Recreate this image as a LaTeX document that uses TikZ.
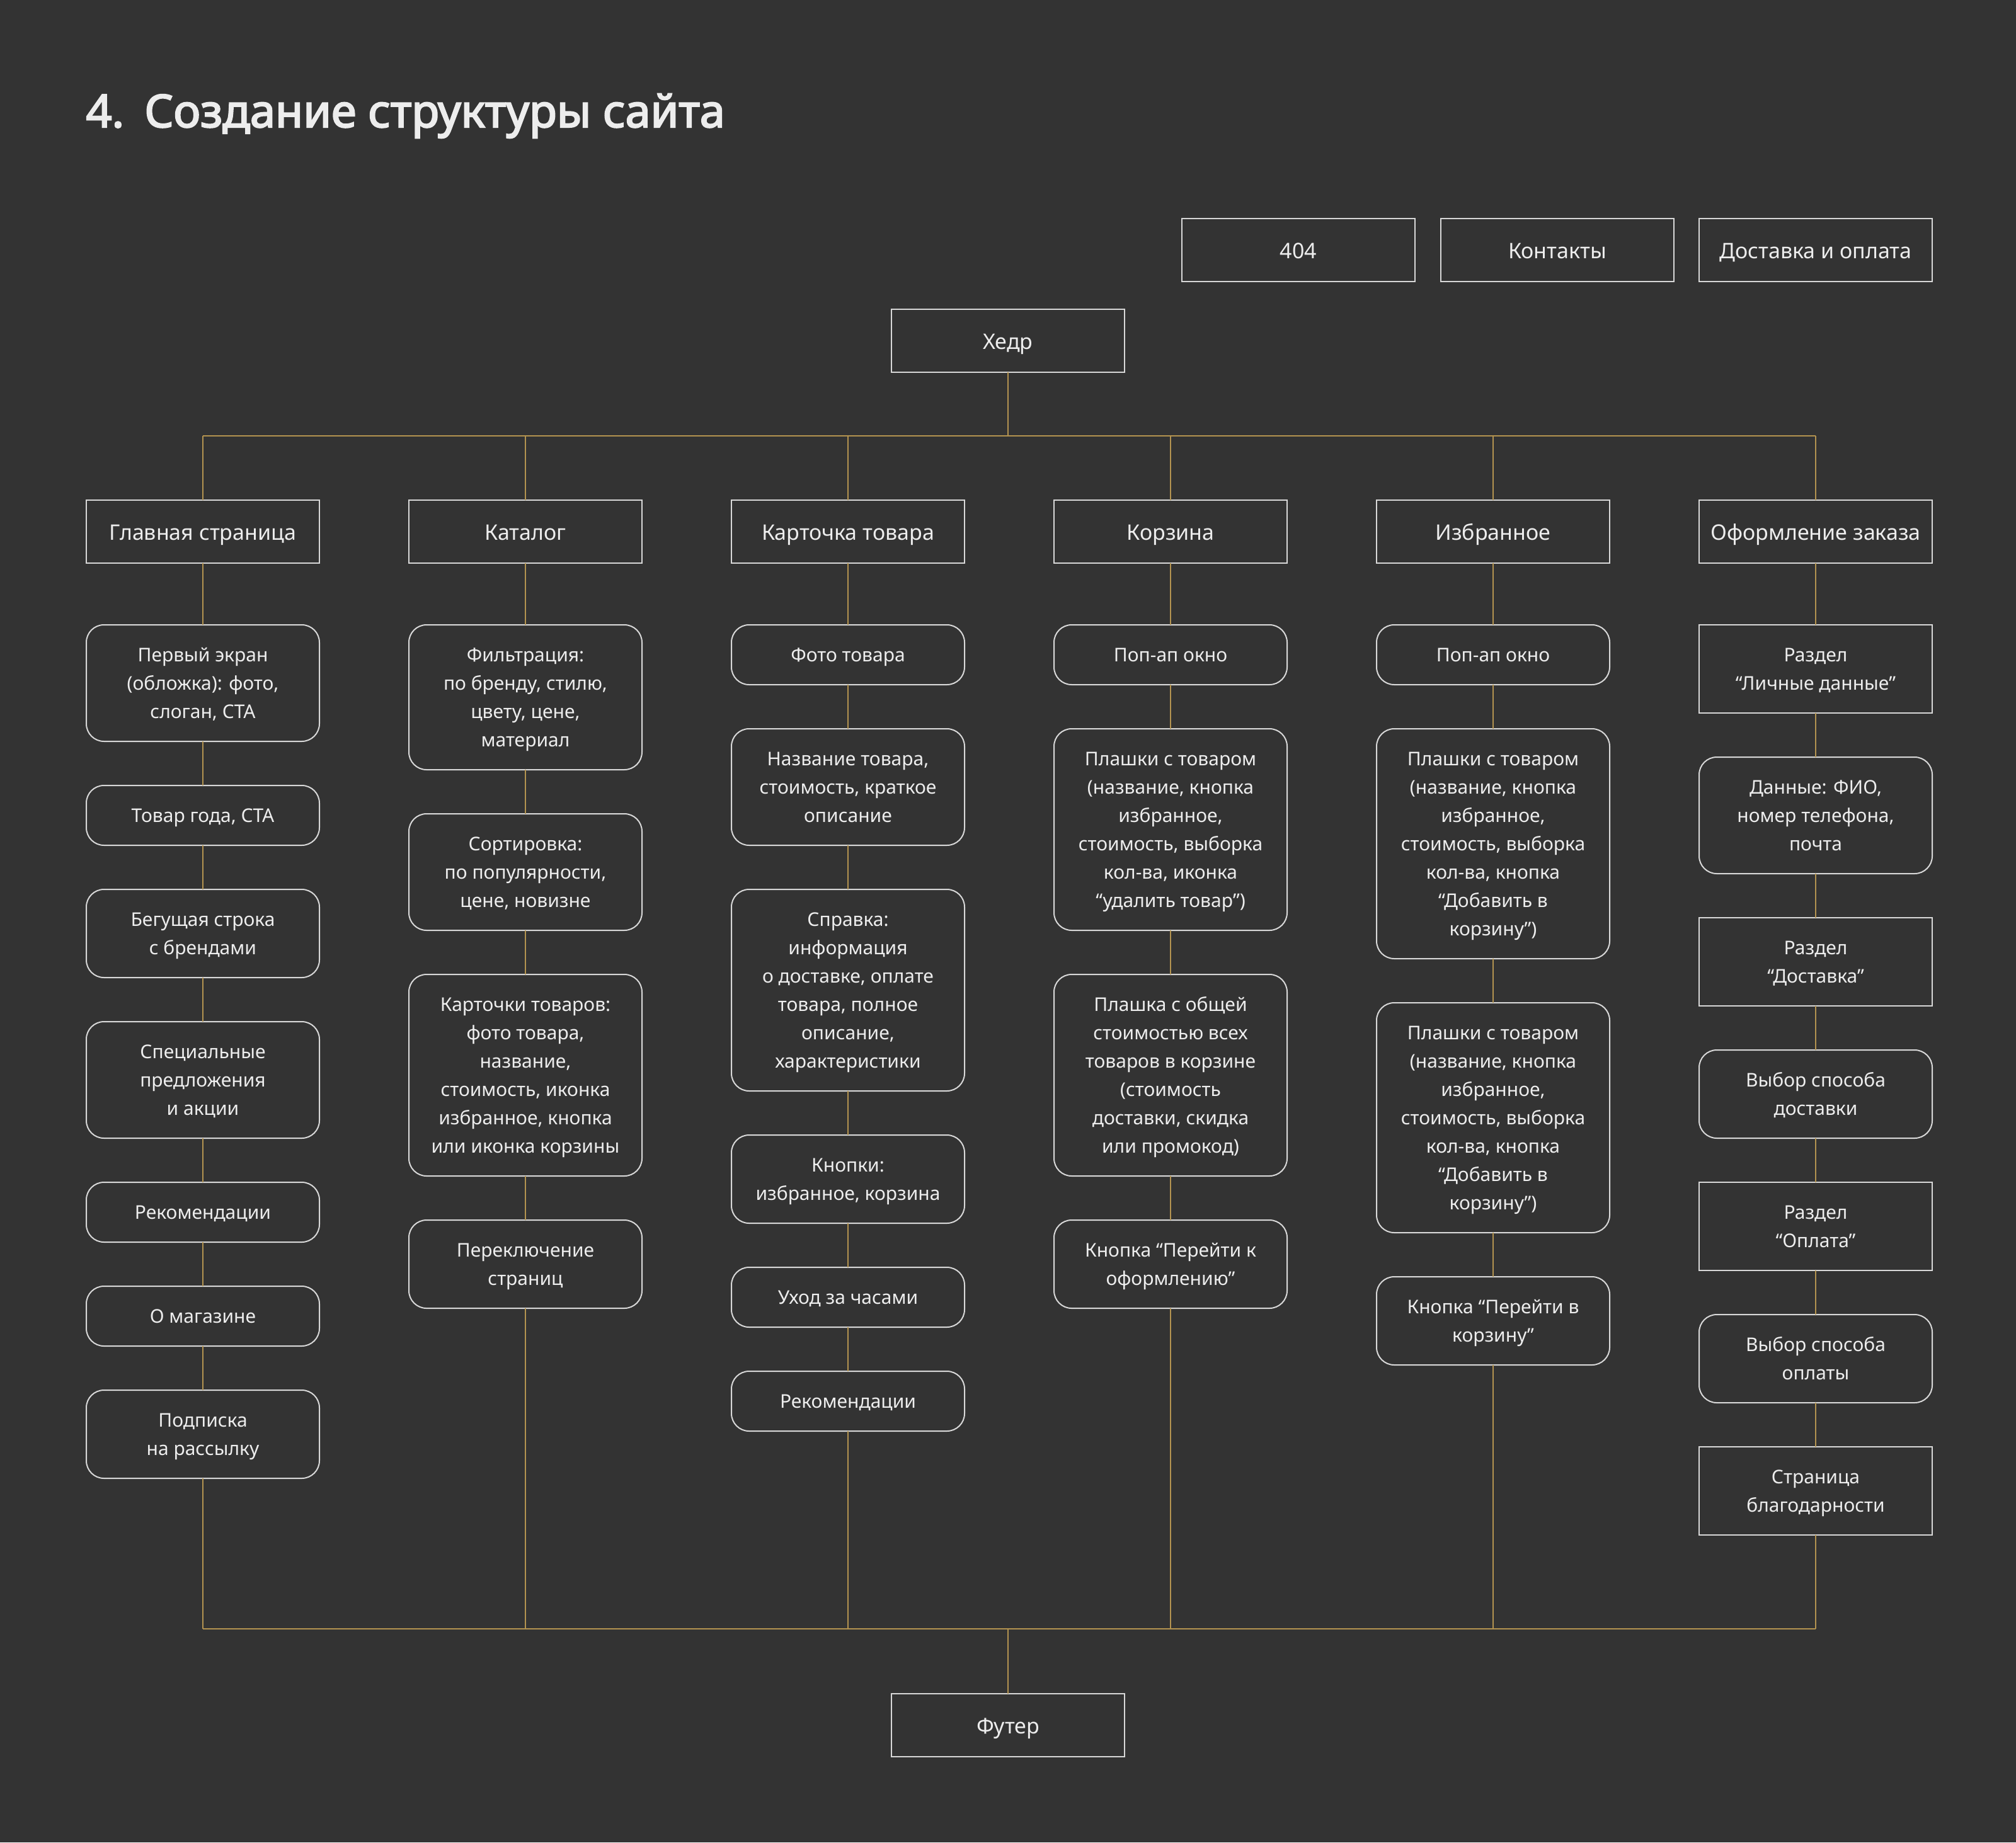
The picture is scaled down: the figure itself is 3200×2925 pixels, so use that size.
\documentclass[tikz,border=0pt]{standalone}
\usepackage{fontspec}
\setmainfont{Noto Sans}
\newfontfamily\ttlfont{Noto Sans}[FakeBold=3]
\usetikzlibrary{positioning}
\definecolor{bg}{HTML}{333333}
\definecolor{gold}{HTML}{B39350}
\definecolor{frame}{HTML}{D8D8D8}
\definecolor{ink}{HTML}{EDEDED}
\tikzset{
  sq/.style={draw=frame, line width=2pt, text=ink, minimum width=370pt, minimum height=100pt, align=center, inner sep=0pt, outer sep=0pt, font=\fontsize{30}{45}\selectfont, execute at begin node=\strut, execute at end node=\strut},
  hd/.style={sq, font=\fontsize{34}{45}\selectfont, text height=36pt, text depth=9pt},
  rnd/.style={sq, rounded corners=28pt},
  nl/.style={minimum height={50pt+45pt*#1}, text height=\the\dimexpr45pt*#1-12pt\relax, text depth=12pt},
  link/.style={gold, line width=2pt},
}
\begin{document}
\begin{tikzpicture}[x=1pt,y=-1pt, node distance=70pt]
\fill[bg](0,0)rectangle(3200,2925);
\useasboundingbox(0,0)rectangle(3200,2925);
\node[anchor=base west,text=ink,font=\fontsize{72}{80}\ttlfont](ttl)at(133,202){4.\hspace{0.45em}Создание структуры сайта};
% верхние страницы
\node[hd](p404)at(2061,397){404};
\node[hd](pcont)at(2472,397){Контакты};
\node[hd](pdel)at(2882,397){Доставка и оплата};
\node[hd](hdr)at(1600,541){Хедр};
\coordinate(busT)at(1600,692);
\coordinate(busB)at(1600,2586);
\node[hd](ftr)at(1600,2739){Футер};
% разделы
\node[hd](c1)at(322,844){Главная страница};
\node[hd](c2)at(834,844){Каталог};
\node[hd](c3)at(1346,844){Карточка товара};
\node[hd](c4)at(1858,844){Корзина};
\node[hd](c5)at(2370,844){Избранное};
\node[hd](c6)at(2882,844){Оформление заказа};
% главная
\node[rnd,nl=3,below=98pt of c1](a1){Первый экран\\(обложка): фото,\\слоган, CTA};
\node[rnd,nl=1,below=of a1](a2){Товар года, CTA};
\node[rnd,nl=2,below=of a2](a3){Бегущая строка\\с брендами};
\node[rnd,nl=3,below=of a3](a4){Специальные\\предложения\\и акции};
\node[rnd,nl=1,below=of a4](a5){Рекомендации};
\node[rnd,nl=1,below=of a5](a6){О магазине};
\node[rnd,nl=2,below=of a6](a7){Подписка\\на рассылку};
% каталог
\node[rnd,nl=4,below=98pt of c2](b1){Фильтрация:\\по бренду, стилю,\\цвету, цене,\\материал};
\node[rnd,nl=3,below=of b1](b2){Сортировка:\\по популярности,\\цене, новизне};
\node[rnd,nl=6,below=of b2](b3){Карточки товаров:\\фото товара,\\название,\\стоимость, иконка\\избранное, кнопка\\или иконка корзины};
\node[rnd,nl=2,below=of b3](b4){Переключение\\страниц};
% карточка товара
\node[rnd,nl=1,below=98pt of c3](d1){Фото товара};
\node[rnd,nl=3,below=of d1](d2){Название товара,\\стоимость, краткое\\описание};
\node[rnd,nl=6,below=of d2](d3){Справка:\\информация\\о доставке, оплате\\товара, полное\\описание,\\характеристики};
\node[rnd,nl=2,below=of d3](d4){Кнопки:\\избранное, корзина};
\node[rnd,nl=1,below=of d4](d5){Уход за часами};
\node[rnd,nl=1,below=of d5](d6){Рекомендации};
% корзина
\node[rnd,nl=1,below=98pt of c4](e1){Поп-ап окно};
\node[rnd,nl=6,below=of e1](e2){Плашки с товаром\\(название, кнопка\\избранное,\\стоимость, выборка\\кол-ва, иконка\\“удалить товар”)};
\node[rnd,nl=6,below=of e2](e3){Плашка с общей\\стоимостью всех\\товаров в корзине\\(стоимость\\доставки, скидка\\или промокод)};
\node[rnd,nl=2,below=of e3](e4){Кнопка “Перейти к\\оформлению”};
% избранное
\node[rnd,nl=1,below=98pt of c5](f1){Поп-ап окно};
\node[rnd,nl=7,below=of f1](f2){Плашки с товаром\\(название, кнопка\\избранное,\\стоимость, выборка\\кол-ва, кнопка\\“Добавить в\\корзину”)};
\node[rnd,nl=7,below=of f2](f3){Плашки с товаром\\(название, кнопка\\избранное,\\стоимость, выборка\\кол-ва, кнопка\\“Добавить в\\корзину”)};
\node[rnd,nl=2,below=of f3](f4){Кнопка “Перейти в\\корзину”};
% оформление заказа
\node[sq,nl=2,below=98pt of c6](g1){Раздел\\“Личные данные”};
\node[rnd,nl=3,below=of g1](g2){Данные: ФИО,\\номер телефона,\\почта};
\node[sq,nl=2,below=of g2](g3){Раздел\\“Доставка”};
\node[rnd,nl=2,below=of g3](g4){Выбор способа\\доставки};
\node[sq,nl=2,below=of g4](g5){Раздел\\“Оплата”};
\node[rnd,nl=2,below=of g5](g6){Выбор способа\\оплаты};
\node[sq,nl=2,below=of g6](g7){Страница\\благодарности};
% связи
\draw[link](hdr)--(busT);
\draw[link](c1.north|-busT)--(c6.north|-busT);
\draw[link](c1.north|-busT)--(c1);
\draw[link](c2.north|-busT)--(c2);
\draw[link](c3.north|-busT)--(c3);
\draw[link](c4.north|-busT)--(c4);
\draw[link](c5.north|-busT)--(c5);
\draw[link](c6.north|-busT)--(c6);
\draw[link](c1)--(a1)(a1)--(a2)(a2)--(a3)(a3)--(a4)(a4)--(a5)(a5)--(a6)(a6)--(a7)(a7.south)--(a7.south|-busB);
\draw[link](c2)--(b1)(b1)--(b2)(b2)--(b3)(b3)--(b4)(b4.south)--(b4.south|-busB);
\draw[link](c3)--(d1)(d1)--(d2)(d2)--(d3)(d3)--(d4)(d4)--(d5)(d5)--(d6)(d6.south)--(d6.south|-busB);
\draw[link](c4)--(e1)(e1)--(e2)(e2)--(e3)(e3)--(e4)(e4.south)--(e4.south|-busB);
\draw[link](c5)--(f1)(f1)--(f2)(f2)--(f3)(f3)--(f4)(f4.south)--(f4.south|-busB);
\draw[link](c6)--(g1)(g1)--(g2)(g2)--(g3)(g3)--(g4)(g4)--(g5)(g5)--(g6)(g6)--(g7)(g7.south)--(g7.south|-busB);
\draw[link](c1.south|-busB)--(c6.south|-busB);
\draw[link](busB)--(ftr);
\end{tikzpicture}
\end{document}
